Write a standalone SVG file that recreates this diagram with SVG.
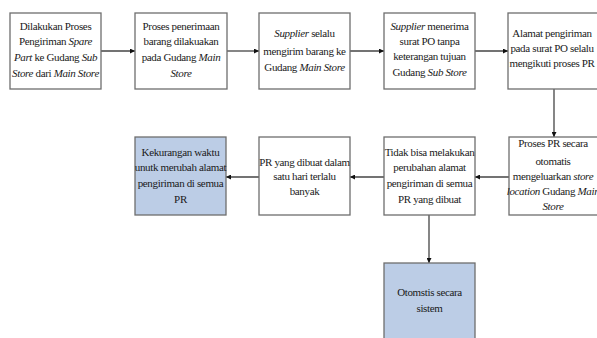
<svg xmlns="http://www.w3.org/2000/svg" width="597" height="338" viewBox="0 0 597 338">
<style>
.box{fill:#ffffff;stroke:#6e6e6e;stroke-width:1.3}
.blue{fill:#bccde6;stroke:#6e6e6e;stroke-width:1.3}
.t text{font-family:'Liberation Serif','DejaVu Serif',serif;font-size:11px;letter-spacing:-0.35px;fill:#1a1a1a;text-anchor:middle}
.i{font-style:italic}
.c{stroke:#444;stroke-width:1.3;fill:none;marker-end:url(#ah)}
</style>
<defs>
<marker id="ah" viewBox="0 0 10 10" refX="10" refY="5" markerWidth="5" markerHeight="5" orient="auto" markerUnits="userSpaceOnUse">
<path d="M0,0 L10,5 L0,10 z" fill="#111"/>
</marker>
</defs>
<rect width="597" height="338" fill="#ffffff"/>
<g id="connectors">
<line class="c" x1="101" y1="51" x2="135" y2="51"/>
<line class="c" x1="227" y1="51" x2="259" y2="51"/>
<line class="c" x1="350" y1="51" x2="384" y2="51"/>
<line class="c" x1="475" y1="51" x2="508" y2="51"/>
<line class="c" x1="554" y1="89" x2="554" y2="137"/>
<line class="c" x1="509" y1="177" x2="475" y2="177"/>
<line class="c" x1="384" y1="177" x2="350" y2="177"/>
<line class="c" x1="259" y1="177" x2="226" y2="177"/>
<line class="c" x1="429" y1="215" x2="429" y2="263"/>
</g>
<g class="t" font-family="'Liberation Serif', 'DejaVu Serif', serif" font-size="11">
<g id="n1">
<rect class="box" x="10" y="13" width="91" height="76"/>
<text x="55.5" y="30">Dilakukan Proses</text>
<text x="55.5" y="45">Pengiriman <tspan class="i">Spare</tspan></text>
<text x="55.5" y="61"><tspan class="i">Part</tspan> ke Gudang <tspan class="i">Sub</tspan></text>
<text x="55.5" y="77"><tspan class="i">Store</tspan> dari <tspan class="i">Main Store</tspan></text>
</g>
<g id="n2">
<rect class="box" x="135" y="13" width="92" height="76"/>
<text x="181" y="30">Proses penerimaan</text>
<text x="181" y="45">barang dilakuakan</text>
<text x="181" y="61">pada Gudang <tspan class="i">Main</tspan></text>
<text x="181" y="77"><tspan class="i">Store</tspan></text>
</g>
<g id="n3">
<rect class="box" x="259" y="13" width="91" height="76"/>
<text x="304.5" y="37"><tspan class="i">Supplier</tspan> selalu</text>
<text x="304.5" y="55">mengirim barang ke</text>
<text x="304.5" y="71">Gudang <tspan class="i">Main Store</tspan></text>
</g>
<g id="n4">
<rect class="box" x="384" y="13" width="91" height="76"/>
<text x="429.5" y="30"><tspan class="i">Supplier</tspan> menerima</text>
<text x="429.5" y="45">surat PO tanpa</text>
<text x="429.5" y="60">keterangan tujuan</text>
<text x="429.5" y="76">Gudang <tspan class="i">Sub Store</tspan></text>
</g>
<g id="n5">
<rect class="box" x="508" y="13" width="92" height="76"/>
<text x="552" y="37">Alamat pengiriman</text>
<text x="552" y="52">pada surat PO selalu</text>
<text x="552" y="67">mengikuti proses PR</text>
</g>
<g id="n6">
<rect class="box" x="509" y="137" width="92" height="78"/>
<text x="553" y="147">Proses PR secara</text>
<text x="553" y="165">otomatis</text>
<text x="553" y="180">mengeluarkan <tspan class="i">store</tspan></text>
<text x="553" y="195"><tspan class="i">location</tspan> Gudang <tspan class="i">Main</tspan></text>
<text x="553" y="210"><tspan class="i">Store</tspan></text>
</g>
<g id="n7">
<rect class="box" x="384" y="137" width="91" height="78"/>
<text x="429.5" y="156">Tidak bisa melakukan</text>
<text x="429.5" y="171">perubahan alamat</text>
<text x="429.5" y="187">pengiriman di semua</text>
<text x="429.5" y="203">PR yang dibuat</text>
</g>
<g id="n8">
<rect class="box" x="259" y="137" width="91" height="78"/>
<text x="304.5" y="166">PR yang dibuat dalam</text>
<text x="304.5" y="180">satu hari terlalu</text>
<text x="304.5" y="195">banyak</text>
</g>
<g id="n9">
<rect class="blue" x="135" y="137" width="91" height="78"/>
<text x="180.5" y="156">Kekurangan waktu</text>
<text x="180.5" y="171">unutk merubah alamat</text>
<text x="180.5" y="187">pengiriman di semua</text>
<text x="180.5" y="203">PR</text>
</g>
<g id="n10">
<rect class="blue" x="384" y="263" width="91" height="78"/>
<text x="429.5" y="296">Otomstis secara</text>
<text x="429.5" y="312">sistem</text>
</g>
</g>
</svg>
